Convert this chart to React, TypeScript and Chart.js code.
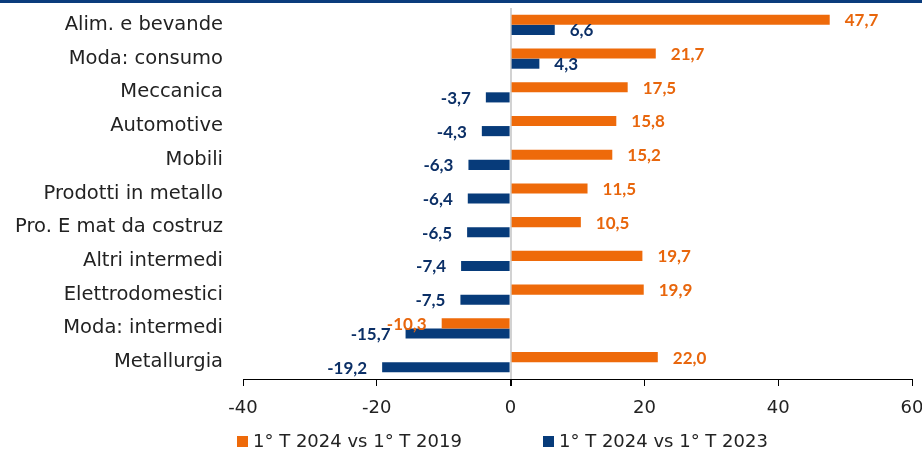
import React, { useEffect, useRef } from "react";
import { Chart, registerables } from "chart.js";

Chart.register(...registerables);

const categories = [
  "Alim. e bevande",
  "Moda: consumo",
  "Meccanica",
  "Automotive",
  "Mobili",
  "Prodotti in metallo",
  "Pro. E mat da costruz",
  "Altri intermedi",
  "Elettrodomestici",
  "Moda: intermedi",
  "Metallurgia",
];
const vs2019 = [47.7, 21.7, 17.5, 15.8, 15.2, 11.5, 10.5, 19.7, 19.9, -10.3, 22.0];
const vs2023 = [6.6, 4.3, -3.7, -4.3, -6.3, -6.4, -6.5, -7.4, -7.5, -15.7, -19.2];
const seriesNames = ["1° T 2024 vs 1° T 2019", "1° T 2024 vs 1° T 2023"];
const xMin = -40;
const xMax = 60;
const xStep = 20;

const ORANGE = "#EE6A0A";
const BLUE = "#073B7A";
const ORANGE_TEXT = "#E8660C";
const BLUE_TEXT = "#0B2F66";
const FONT = "'DejaVu Sans', sans-serif";
const LABEL_FONT = "Lato, 'DejaVu Sans', sans-serif";

const fmt = (v: number) => v.toFixed(1).replace(".", ",");

const decorPlugin = {
  id: "decor",
  beforeDraw(chart: any) {
    const ctx = chart.ctx;
    ctx.save();
    ctx.fillStyle = "#ffffff";
    ctx.fillRect(0, 0, chart.width, chart.height);
    ctx.fillStyle = "#0A3C7C";
    ctx.fillRect(0, 0, chart.width, 3);
    ctx.restore();
  },
  afterDatasetsDraw(chart: any) {
    const ctx = chart.ctx;
    ctx.save();
    ctx.font = `bold 17px ${LABEL_FONT}`;
    ctx.textBaseline = "middle";
    chart.data.datasets.forEach((ds: any, di: number) => {
      const meta = chart.getDatasetMeta(di);
      ctx.fillStyle = di === 0 ? ORANGE_TEXT : BLUE_TEXT;
      meta.data.forEach((el: any, i: number) => {
        const v = ds.data[i] as number;
        const gap = 15;
        if (v >= 0) {
          ctx.textAlign = "left";
          ctx.fillText(fmt(v), el.x + gap, el.y + 1);
        } else {
          ctx.textAlign = "right";
          ctx.fillText(fmt(v), el.x - gap, el.y + 1);
        }
      });
    });
    ctx.restore();
  },
  afterDraw(chart: any) {
    const ctx = chart.ctx;
    ctx.save();
    ctx.font = `18px ${FONT}`;
    ctx.textBaseline = "middle";
    ctx.textAlign = "left";
    const y = 441;
    const items = [
      { x: 237, color: ORANGE, text: seriesNames[0] },
      { x: 543, color: BLUE, text: seriesNames[1] },
    ];
    items.forEach((it) => {
      ctx.fillStyle = it.color;
      ctx.fillRect(it.x, y - 5, 11, 11);
      ctx.fillStyle = "#222222";
      ctx.fillText(it.text, it.x + 16, y + 1);
    });
    ctx.restore();
  },
};

export default function App() {
  const ref = useRef<HTMLCanvasElement>(null);
  useEffect(() => {
    document.body.style.margin = "0";
    const chart = new Chart(ref.current!, {
      type: "bar",
      data: {
        labels: categories,
        datasets: [
          {
            label: seriesNames[0],
            data: vs2019,
            backgroundColor: ORANGE,
            borderWidth: 0,
            categoryPercentage: 0.6,
            barPercentage: 1,
          },
          {
            label: seriesNames[1],
            data: vs2023,
            backgroundColor: BLUE,
            borderWidth: 0,
            categoryPercentage: 0.6,
            barPercentage: 1,
          },
        ],
      },
      options: {
        indexAxis: "y",
        responsive: false,
        animation: false,
        devicePixelRatio: 1,
        layout: { padding: { top: 8, right: 10, bottom: 41, left: 0 } },
        plugins: {
          legend: { display: false },
          tooltip: { enabled: false },
        },
        scales: {
          x: {
            min: xMin,
            max: xMax,
            ticks: {
              stepSize: xStep,
              color: "#222222",
              font: { family: FONT, size: 18 },
              padding: 12,
              callback: (v: any) => String(v),
            },
            grid: {
              color: (c: any) => (c.tick && c.tick.value === 0 ? "#D2D2D2" : "rgba(0,0,0,0)"),
              tickColor: "#000000",
              tickLength: 7,
              lineWidth: (c: any) => (c.tick && c.tick.value === 0 ? 2 : 1),
            },
            border: { color: "#000000", width: 1, z: 1 },
            afterFit: (s: any) => {
              s.height = 40;
              s.paddingLeft = 0;
              s.paddingRight = 0;
            },
          },
          y: {
            ticks: {
              color: "#222222",
              font: { family: FONT, size: 19.5 },
              padding: 20,
            },
            grid: { display: false, drawTicks: false },
            border: { display: false },
            afterFit: (s: any) => {
              s.width = 243;
              s.paddingTop = 0;
              s.paddingBottom = 0;
            },
          },
        },
      },
      plugins: [decorPlugin],
    } as any);
    return () => chart.destroy();
  }, []);
  return (
    <div style={{ width: 922, height: 460 }}>
      <canvas ref={ref} width={922} height={460} style={{ display: "block" }} />
    </div>
  );
}
